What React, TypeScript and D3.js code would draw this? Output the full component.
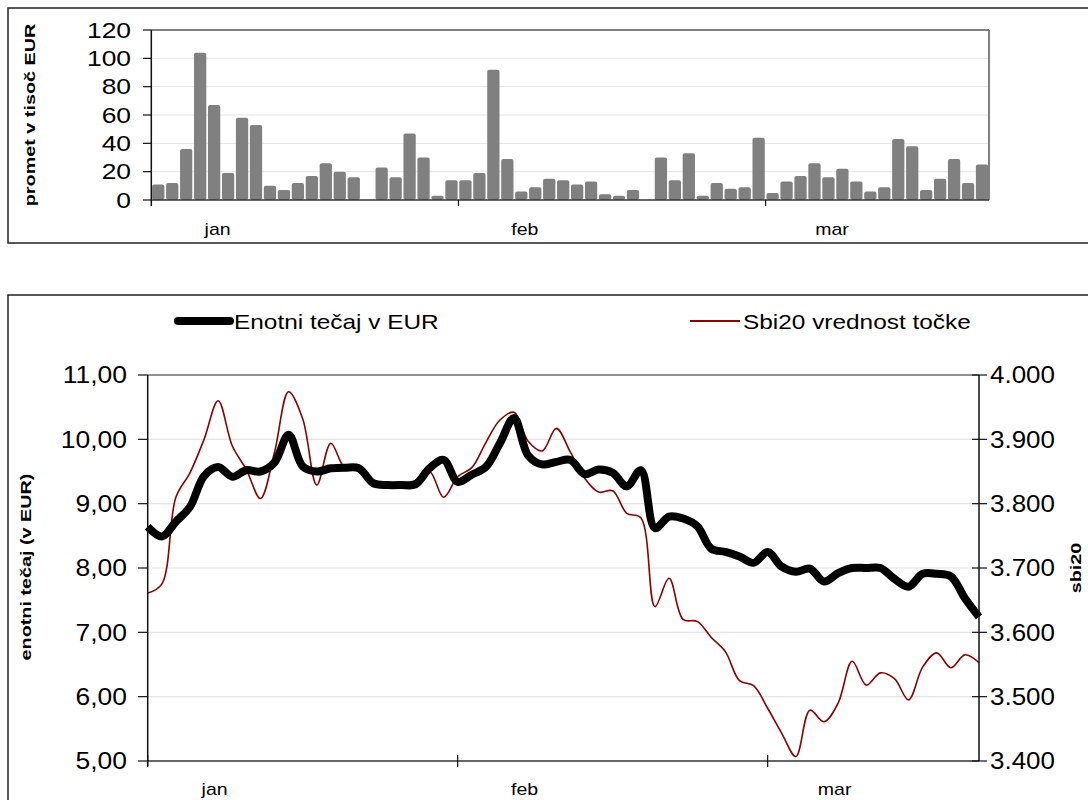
import * as d3 from "d3";

// promet (turnover) in thousands EUR, one slot per trading day, null = no trade
const turnover: (number | null)[] = [
  11, 12, 36, 104, 67, 19, 58, 53, 10, 7, 12, 17, 26, 20, 16, null,
  23, 16, 47, 30, 3, 14, 14, 19, 92, 29, 6, 9, 15, 14, 11, 13, 4, 3, 7, null,
  30, 14, 33, 3, 12, 8, 9, 44, 5, 13, 17, 26, 16, 22, 13, 6, 9, 43, 38, 7,
  15, 29, 12, 25,
];

// enotni tečaj in EUR
const price: number[] = [
  8.64, 8.49, 8.72, 8.95, 9.43, 9.57, 9.42, 9.52, 9.5, 9.64, 10.07, 9.58,
  9.5, 9.55, 9.56, 9.55, 9.32, 9.29, 9.29, 9.3, 9.55, 9.68, 9.34, 9.45, 9.57,
  9.94, 10.33, 9.75, 9.61, 9.65, 9.68, 9.46, 9.53, 9.48, 9.27, 9.52, 8.62,
  8.8, 8.77, 8.65, 8.3, 8.25, 8.18, 8.08, 8.25, 8.02, 7.94, 7.99, 7.79, 7.92,
  8.0, 8.0, 8.0, 7.83, 7.71, 7.91, 7.91, 7.87, 7.53, 7.24,
];

// Sbi20 index value
const sbi20: number[] = [
  3661, 3675, 3810, 3848, 3900, 3960, 3890, 3853, 3808, 3880, 3974, 3932,
  3829, 3894, 3856, 3860, 3830, 3830, 3832, 3836, 3850, 3810, 3842, 3856,
  3895, 3930, 3942, 3897, 3882, 3917, 3880, 3840, 3818, 3820, 3785, 3778,
  3640, 3684, 3620, 3617, 3592, 3570, 3525, 3517, 3482, 3443, 3407, 3479,
  3461, 3490, 3555, 3518, 3537, 3528, 3495, 3546, 3568, 3545, 3565, 3553,
];

const months = ["jan", "feb", "mar"];
const monthStart = [0, 22, 44];
const turnoverTicks = [0, 20, 40, 60, 80, 100, 120];
const priceTicks = [5, 6, 7, 8, 9, 10, 11];
const sbiTicks = [3400, 3500, 3600, 3700, 3800, 3900, 4000];

const FONT = "'Liberation Sans', Arial, sans-serif";
const RED = "#8b0000";
const GRID = "#e4e4e4";

function T({
  x, y, size, sx = 1, rotate = 0, anchor = "start", bold = false, children,
}: {
  x: number; y: number; size: number; sx?: number; rotate?: number;
  anchor?: string; bold?: boolean; children: string;
}) {
  return (
    <text
      transform={`translate(${x},${y}) rotate(${rotate}) scale(${sx},1)`}
      fontSize={size}
      fontFamily={FONT}
      fontWeight={bold ? "bold" : "normal"}
      textAnchor={anchor as any}
      fill="#000"
    >
      {children}
    </text>
  );
}

export default function App() {
  const n = turnover.length;
  const fmtPrice = (v: number) => d3.format(".2f")(v).replace(".", ",");
  const fmtSbi = (v: number) => d3.format(",")(v).replace(",", ".");

  // ---- top chart: turnover bars
  const tx = d3.scaleBand<number>().domain(d3.range(n)).range([151.3, 989]).paddingInner(0.12).paddingOuter(0.06);
  const ty = d3.scaleLinear().domain([0, 120]).range([200, 30]);
  const slot = tx.step();
  const tEdge = (i: number) => 151.3 + i * slot;

  // ---- bottom chart: price vs sbi20
  const bx = d3.scaleLinear().domain([0, n - 1]).range([147.7, 979]);
  const by = d3.scaleLinear().domain([5, 11]).range([761, 375]);
  const br = d3.scaleLinear().domain([3400, 4000]).range([761, 375]);
  const curve = d3.curveCatmullRom.alpha(0.5);
  const priceLine = d3.line<number>().x((_, i) => bx(i)).y((d) => by(d)).curve(curve);
  const sbiLine = d3.line<number>().x((_, i) => bx(i)).y((d) => br(d)).curve(curve);

  return (
    <svg width={1088} height={800} style={{ position: "absolute", left: 0, top: 0, background: "#fff" }}>
      {/* ===== top panel ===== */}
      <rect x={8} y={8} width={1090} height={235} fill="#fff" stroke="#222" strokeWidth={1.5} />
      {turnoverTicks.slice(1, -1).map((t) => (
        <line key={t} x1={151.3} x2={989} y1={ty(t)} y2={ty(t)} stroke={GRID} strokeWidth={1} />
      ))}
      <line x1={151.3} x2={989} y1={ty(120)} y2={ty(120)} stroke="#808080" strokeWidth={2} />
      <line x1={989} x2={989} y1={ty(120)} y2={ty(0)} stroke="#808080" strokeWidth={2} />
      {turnover.map((v, i) =>
        v == null ? null : (
          <rect key={i} x={tx(i)} y={ty(v)} width={tx.bandwidth()} height={ty(0) - ty(v)} rx={2} fill="#808080" />
        )
      )}
      <line x1={151.3} x2={989} y1={200} y2={200} stroke="#333" strokeWidth={1.5} />
      <line x1={151.3} x2={151.3} y1={30} y2={206} stroke="#111" strokeWidth={1.5} />
      {turnoverTicks.map((t) => (
        <g key={t}>
          <line x1={143} x2={151.3} y1={ty(t)} y2={ty(t)} stroke="#111" strokeWidth={1.2} />
          <T x={131} y={ty(t) + 7.8} size={22} sx={1.2} anchor="end">{String(t)}</T>
        </g>
      ))}
      {monthStart.slice(1).map((m) => (
        <line key={m} x1={tEdge(m)} x2={tEdge(m)} y1={200} y2={206} stroke="#111" strokeWidth={1.2} />
      ))}
      {months.map((m, i) => (
        <T key={m} x={tEdge(monthStart[i] + 4.75)} y={235} size={16} sx={1.22} anchor="middle">{m}</T>
      ))}
      <T x={35} y={115} size={15} sx={1.32} rotate={-90} anchor="middle" bold>promet v tisoč EUR</T>

      {/* ===== bottom panel ===== */}
      <rect x={8} y={295} width={1090} height={520} fill="#fff" stroke="#222" strokeWidth={1.5} />
      {/* legend */}
      <line x1={178} x2={230} y1={321} y2={321} stroke="#000" strokeWidth={8} strokeLinecap="round" />
      <T x={234} y={328.5} size={20} sx={1.22}>Enotni tečaj v EUR</T>
      <line x1={690} x2={740} y1={321} y2={321} stroke={RED} strokeWidth={2} />
      <T x={743} y={328.5} size={20} sx={1.22}>Sbi20 vrednost točke</T>

      {priceTicks.slice(1, -1).map((t) => (
        <line key={t} x1={147.7} x2={979} y1={by(t)} y2={by(t)} stroke={GRID} strokeWidth={1.2} />
      ))}
      <line x1={147.7} x2={979} y1={375} y2={375} stroke="#909090" strokeWidth={2} />
      <path d={sbiLine(sbi20) ?? ""} fill="none" stroke={RED} strokeWidth={1.6} />
      <path d={priceLine(price) ?? ""} fill="none" stroke="#000" strokeWidth={8} strokeLinejoin="round" />

      <line x1={147.7} x2={979} y1={761} y2={761} stroke="#333" strokeWidth={1.5} />
      <line x1={147.7} x2={147.7} y1={375} y2={766} stroke="#111" strokeWidth={1.5} />
      <line x1={979} x2={979} y1={375} y2={761} stroke="#111" strokeWidth={1.5} />
      {priceTicks.map((t) => (
        <g key={t}>
          <line x1={138} x2={147.7} y1={by(t)} y2={by(t)} stroke="#111" strokeWidth={1.2} />
          <T x={127} y={by(t) + 8.3} size={23} sx={1.15} anchor="end">{fmtPrice(t)}</T>
        </g>
      ))}
      {sbiTicks.map((t) => (
        <g key={t}>
          <line x1={972} x2={987} y1={br(t)} y2={br(t)} stroke="#111" strokeWidth={1.2} />
          <T x={990} y={br(t) + 8.3} size={23} sx={1.13}>{fmtSbi(t)}</T>
        </g>
      ))}
      {monthStart.map((m) => (
        <line key={m} x1={bx(m)} x2={bx(m)} y1={755} y2={767} stroke="#111" strokeWidth={1.2} />
      ))}
      {months.map((m, i) => (
        <T key={m} x={bx(monthStart[i] + 4.75)} y={795} size={16} sx={1.22} anchor="middle">{m}</T>
      ))}
      <T x={31} y={567} size={15} sx={1.32} rotate={-90} anchor="middle" bold>enotni tečaj  (v EUR)</T>
      <T x={1081} y={568} size={15} sx={1.32} rotate={-90} anchor="middle" bold>sbi20</T>
    </svg>
  );
}
